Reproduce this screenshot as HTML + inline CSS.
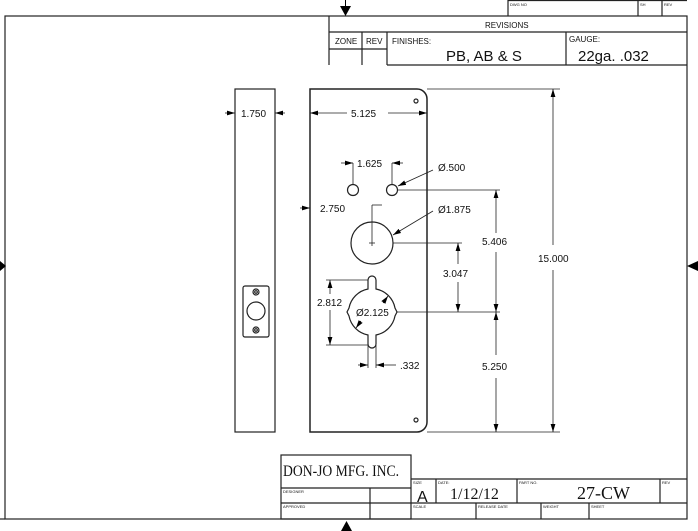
<!DOCTYPE html>
<html><head><style>html,body{margin:0;padding:0;background:#fff}svg{display:block}</style></head><body>
<svg width="698" height="531" viewBox="0 0 698 531" xmlns="http://www.w3.org/2000/svg" font-family="Liberation Sans, sans-serif">
<defs>
<marker id="a" viewBox="0 0 10 6" refX="10" refY="3" markerWidth="8" markerHeight="5" orient="auto-start-reverse" markerUnits="userSpaceOnUse"><path d="M0,0L10,3L0,6z" fill="#000"/></marker>
</defs>
<g fill="none" stroke="#222" stroke-width="1.2">
<!-- frame -->
<rect x="5" y="16" width="682" height="503"/>
<!-- top boxes -->
<polyline points="508,16 508,0"/><line x1="638" y1="0" x2="638" y2="16"/><line x1="662" y1="0" x2="662" y2="16"/>
<line x1="508" y1="0.5" x2="687" y2="0.5"/>
<!-- revisions -->
<line x1="329" y1="16" x2="329" y2="65"/>
<line x1="329" y1="32" x2="687" y2="32"/>
<line x1="329" y1="49" x2="387" y2="49"/>
<line x1="362" y1="32" x2="362" y2="65"/>
<line x1="387" y1="32" x2="387" y2="65"/>
<line x1="566" y1="32" x2="566" y2="65"/>
<line x1="387" y1="65" x2="687" y2="65"/>
<!-- title block -->
<rect x="281" y="455" width="130" height="64"/>
<line x1="281" y1="488" x2="411" y2="488"/>
<line x1="281" y1="503" x2="687" y2="503"/>
<line x1="370" y1="488" x2="370" y2="519"/>
<line x1="411" y1="479" x2="687" y2="479"/>
<line x1="436" y1="479" x2="436" y2="503"/>
<line x1="517" y1="479" x2="517" y2="503"/>
<line x1="660" y1="479" x2="660" y2="503"/>
<line x1="476" y1="503" x2="476" y2="519"/>
<line x1="541" y1="503" x2="541" y2="519"/>
<line x1="589" y1="503" x2="589" y2="519"/>
<line x1="0" y1="519" x2="5" y2="519"/>
<!-- side strip -->
<rect x="235" y="89" width="40" height="343"/>
<rect x="243" y="286" width="26" height="51" rx="2"/>
<circle cx="256" cy="311" r="9"/>
<circle cx="256" cy="292" r="3"/><circle cx="256" cy="292" r="1.3"/>
<circle cx="256" cy="330" r="3"/><circle cx="256" cy="330" r="1.3"/>
<!-- plate -->
<path d="M310,89 H417 A10,10 0 0 1 427,99 V422 A10,10 0 0 1 417,432 H310 Z" stroke-width="1.5"/>
<circle cx="416" cy="101" r="2"/><circle cx="416" cy="420" r="2"/>
<circle cx="353" cy="190" r="5.5"/><circle cx="392" cy="190" r="5.5"/>
<circle cx="372" cy="243" r="21"/>
<path d="M368,289 V280 A4,4 0 0 1 376,280 V289 A24,24 0 0 1 395,308 L397,312 L395,316 A24,24 0 0 1 376,335 V344 A4,4 0 0 1 368,344 V335 A24,24 0 0 1 349,316 L347,312 L349,308 A24,24 0 0 1 368,289 Z"/>
</g>
<g stroke="#222" stroke-width="0.8" fill="none">
<!-- centre marks -->
<line x1="372" y1="205" x2="372" y2="246"/><line x1="369" y1="243" x2="375" y2="243"/>
<line x1="372" y1="205" x2="382" y2="205"/>
<!-- extension lines -->
<line x1="427" y1="89" x2="560" y2="89"/><line x1="427" y1="432" x2="560" y2="432"/>
<line x1="398" y1="190" x2="500" y2="190"/>
<line x1="393" y1="243" x2="462" y2="243"/>
<line x1="397" y1="312" x2="500" y2="312"/>
<line x1="326" y1="280" x2="368" y2="280"/><line x1="326" y1="345" x2="368" y2="345"/>
<line x1="353" y1="184" x2="353" y2="163"/><line x1="392" y1="184" x2="392" y2="163"/>
<line x1="368" y1="345" x2="368" y2="368"/><line x1="376" y1="345" x2="376" y2="368"/>
<!-- dimension lines -->
<line x1="225" y1="113" x2="235" y2="113" marker-end="url(#a)"/>
<line x1="285" y1="113" x2="275" y2="113" marker-end="url(#a)"/>
<line x1="310" y1="113" x2="347" y2="113" marker-start="url(#a)"/>
<line x1="388" y1="113" x2="427" y2="113" marker-end="url(#a)"/>
<line x1="341" y1="163" x2="353" y2="163" marker-end="url(#a)"/>
<line x1="403" y1="163" x2="392" y2="163" marker-end="url(#a)"/>
<line x1="300" y1="208" x2="310" y2="208" marker-end="url(#a)"/>
<line x1="553" y1="89" x2="553" y2="245" marker-start="url(#a)"/>
<line x1="553" y1="270" x2="553" y2="432" marker-end="url(#a)"/>
<line x1="496" y1="190" x2="496" y2="233" marker-start="url(#a)"/>
<line x1="496" y1="252" x2="496" y2="312" marker-end="url(#a)"/>
<line x1="496" y1="312" x2="496" y2="355" marker-start="url(#a)"/>
<line x1="496" y1="378" x2="496" y2="432" marker-end="url(#a)"/>
<line x1="458" y1="243" x2="458" y2="264" marker-start="url(#a)"/>
<line x1="458" y1="282" x2="458" y2="312" marker-end="url(#a)"/>
<line x1="330" y1="280" x2="330" y2="294" marker-start="url(#a)"/>
<line x1="330" y1="310" x2="330" y2="345" marker-end="url(#a)"/>
<line x1="358" y1="365" x2="368" y2="365" marker-end="url(#a)"/>
<line x1="386" y1="365" x2="376" y2="365" marker-end="url(#a)"/>
<line x1="386" y1="365" x2="396" y2="365"/>
<line x1="433" y1="170" x2="398" y2="186" marker-end="url(#a)"/>
<line x1="433" y1="211" x2="393" y2="235" marker-end="url(#a)"/>
<line x1="388" y1="296" x2="383" y2="303" marker-start="url(#a)"/>
<line x1="361" y1="321" x2="356" y2="328" marker-end="url(#a)"/>
</g>
<!-- arrows on frame -->
<g fill="#000">
<path d="M340,6 H351 L345.5,16 Z"/><path d="M341,531 H352 L346.5,521 Z"/>
<path d="M0,261 L6,266 L0,271 Z"/><path d="M698,261 L687,266 L698,271 Z"/>
<line x1="345.5" y1="0" x2="345.5" y2="8" stroke="#000"/>
</g>
<g font-size="10" fill="#111">
<text x="241" y="117">1.750</text>
<text x="351" y="117">5.125</text>
<text x="357" y="167">1.625</text>
<text x="438" y="171">Ø.500</text>
<text x="320" y="212">2.750</text>
<text x="438" y="213">Ø1.875</text>
<text x="482" y="245">5.406</text>
<text x="538" y="262">15.000</text>
<text x="443" y="277">3.047</text>
<text x="317" y="306">2.812</text>
<text x="356" y="316">Ø2.125</text>
<text x="400" y="369">.332</text>
<text x="482" y="370">5.250</text>
</g>
<g fill="#111">
<text x="485" y="28" font-size="8">REVISIONS</text>
<text x="335" y="44" font-size="8">ZONE</text>
<text x="366" y="44" font-size="8">REV</text>
<text x="392" y="44" font-size="8">FINISHES:</text>
<text x="569" y="42" font-size="8">GAUGE:</text>
<text x="446" y="61" font-size="15">PB, AB &amp; S</text>
<text x="578" y="61" font-size="15">22ga. .032</text>
<text x="510" y="6" font-size="4">DWG NO</text>
<text x="640" y="6" font-size="4">SH</text>
<text x="664" y="6" font-size="4">REV</text>
<text x="283" y="476" font-size="16" font-family="Liberation Serif, serif" textLength="116" lengthAdjust="spacingAndGlyphs">DON-JO MFG. INC.</text>
<text x="283" y="493" font-size="4">DESIGNER</text>
<text x="283" y="508" font-size="4">APPROVED</text>
<text x="413" y="484" font-size="4">SIZE</text>
<text x="438" y="484" font-size="4">DATE:</text>
<text x="519" y="484" font-size="4">PART NO.</text>
<text x="662" y="484" font-size="4">REV</text>
<text x="413" y="508" font-size="4">SCALE</text>
<text x="478" y="508" font-size="4">RELEASE DATE</text>
<text x="543" y="508" font-size="4">WEIGHT</text>
<text x="591" y="508" font-size="4">SHEET</text>
<text x="417" y="502" font-size="16">A</text>
<text x="450" y="499" font-size="16" font-family="Liberation Serif, serif">1/12/12</text>
<text x="577" y="499" font-size="18" font-family="Liberation Serif, serif">27-CW</text>
</g>
</svg>
</body></html>
